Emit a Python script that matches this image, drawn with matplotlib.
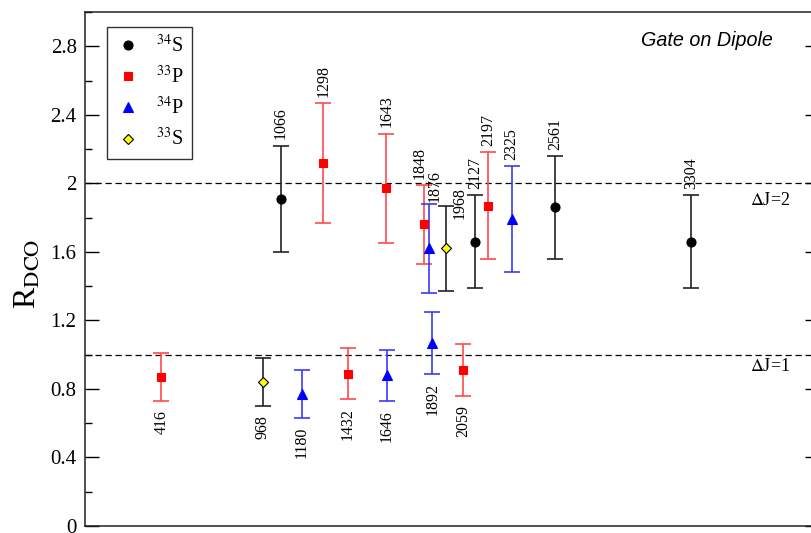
import matplotlib
matplotlib.use('Agg')
import matplotlib.pyplot as plt
from matplotlib.lines import Line2D
from matplotlib.ticker import MultipleLocator, NullLocator

plt.rcParams['font.family'] = ['Liberation Serif', 'DejaVu Serif']
plt.rcParams['mathtext.fontset'] = 'stix'

# gamma energies (keV), R_DCO and errors per nucleus
s34_energy = [1066, 2127, 2561, 3304]
s34_rdco = [1.91, 1.66, 1.86, 1.66]
s34_err = [0.31, 0.27, 0.30, 0.27]

p33_energy = [416, 1298, 1432, 1643, 1848, 2059, 2197]
p33_rdco = [0.87, 2.12, 0.89, 1.97, 1.76, 0.91, 1.87]
p33_err = [0.14, 0.35, 0.15, 0.32, 0.23, 0.15, 0.31]

p34_energy = [1180, 1646, 1876, 1892, 2325]
p34_rdco = [0.77, 0.88, 1.62, 1.07, 1.79]
p34_err = [0.14, 0.15, 0.26, 0.18, 0.31]

s33_energy = [968, 1968]
s33_rdco = [0.84, 1.62]
s33_err = [0.14, 0.25]

# (label, data, marker, face, edge, bar colour, marker size)
series = [
    (r'$^{34}$S', s34_energy, s34_rdco, s34_err, 'o', 'black', 'black', '#222222', 6.5),
    (r'$^{33}$P', p33_energy, p33_rdco, p33_err, 's', 'red', 'red', '#ff4a4a', 6.0),
    (r'$^{34}$P', p34_energy, p34_rdco, p34_err, '^', 'blue', 'blue', '#3a3aff', 7.0),
    (r'$^{33}$S', s33_energy, s33_rdco, s33_err, 'D', '#ffff00', 'black', '#222222', 5.5),
]

# hand nudges (points) for crowded labels
nudge = {1848: (-3.5, 0), 1876: (4, -3), 1968: (9.5, -14.5)}

fig = plt.figure(figsize=(8.11, 5.33), dpi=100)
ax = fig.add_axes([85 / 811, 7 / 533, 734 / 811, 514 / 533])

handles = []
for lbl, ex, ry, err, mk, fc, ec, bc, ms in series:
    ax.errorbar(ex, ry, yerr=err, fmt='none', ecolor=bc, elinewidth=1.2,
                capsize=5.5, capthick=1.2, zorder=3)
    ax.plot(ex, ry, linestyle='none', marker=mk, markersize=ms,
            markerfacecolor=fc, markeredgecolor=ec, markeredgewidth=0.8, zorder=4)
    handles.append(Line2D([], [], linestyle='none', marker=mk, markersize=ms,
                          markerfacecolor=fc, markeredgecolor=ec,
                          markeredgewidth=0.8, label=lbl))
    for e, r, d in zip(ex, ry, err):
        dx, dy = nudge.get(e, (0, 0))
        if r > 1.4:
            ax.annotate(str(e), (e, r + d), xytext=(dx, 4.5 + dy),
                        textcoords='offset points', rotation=90,
                        ha='center', va='bottom', fontsize=11.5)
        else:
            ax.annotate(str(e), (e, r - d), xytext=(dx, -6.5 + dy),
                        textcoords='offset points', rotation=90,
                        ha='center', va='top', fontsize=11.5)

for yv in (1.0, 2.0):
    ax.axhline(yv, color='black', linestyle=(0, (5, 3)), linewidth=0.9, zorder=1)
ax.text(3736, 1.9, r'$\Delta$J=2', ha='center', va='center', fontsize=13)
ax.text(3736, 0.93, r'$\Delta$J=1', ha='center', va='center', fontsize=13)
ax.text(0.847, 0.944, 'Gate on Dipole', transform=ax.transAxes, ha='center',
        va='center', fontsize=14.2, style='italic',
        family=['Liberation Sans', 'DejaVu Sans'])

ax.set_xlim(0, 4000)
ax.set_ylim(0, 3.0)
ax.xaxis.set_major_locator(NullLocator())
ax.yaxis.set_minor_locator(MultipleLocator(0.2))
ax.set_yticks([0, 0.4, 0.8, 1.2, 1.6, 2.0, 2.4, 2.8])
ax.set_yticklabels(['0', '0.4', '0.8', '1.2', '1.6', '2', '2.4', '2.8'])
ax.tick_params(axis='y', which='both', direction='in', left=True, right=True,
               labelsize=15, width=1.0, pad=6)
ax.tick_params(axis='y', which='major', length=10)
ax.tick_params(axis='y', which='minor', length=5)
for sp in ax.spines.values():
    sp.set_linewidth(1.1)
    sp.set_color('#222222')

ax.set_ylabel(r'R$_{\mathrm{DCO}}$', fontsize=23)
ax.yaxis.set_label_coords(-0.057, 0.49)

leg = ax.legend(handles=handles, loc='upper left', bbox_to_anchor=(0.0296, 0.971),
                borderaxespad=0, fontsize=14.5, frameon=True, fancybox=False,
                edgecolor='#333333', framealpha=1, handlelength=1.3,
                handletextpad=0.75, labelspacing=0.45, borderpad=0.4)
leg.get_frame().set_linewidth(1.0)

fig.savefig('out.png', dpi=100)
